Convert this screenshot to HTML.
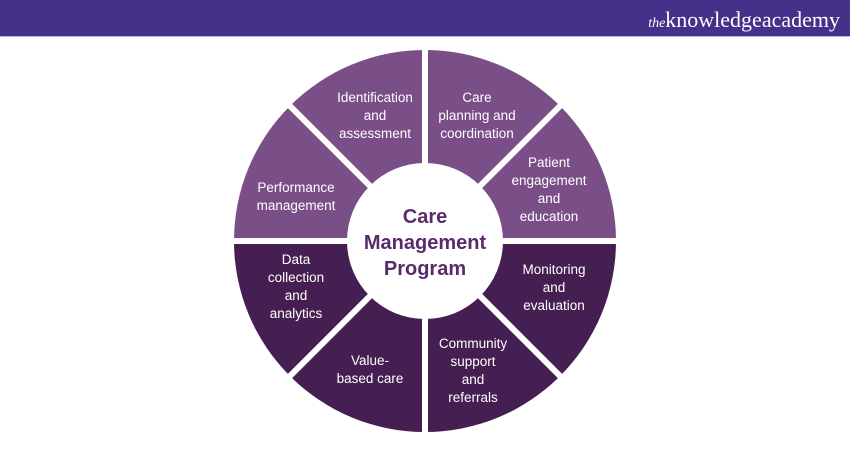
<!DOCTYPE html>
<html><head><meta charset="utf-8"><style>
html,body{margin:0;padding:0;background:#fff;width:850px;height:450px;overflow:hidden}
</style></head><body>
<svg width="850" height="450" viewBox="0 0 850 450" xmlns="http://www.w3.org/2000/svg">
<rect x="0" y="0" width="850" height="36" fill="#45318a"/>
<rect x="0" y="36" width="850" height="1" fill="#b9b0d6"/>
<text x="840" y="27" text-anchor="end" fill="#fff" font-family="Liberation Serif, serif" font-size="22"><tspan font-style="italic" font-size="14">the</tspan>knowledge<tspan>academy</tspan></text>
<path d="M234 241 A191 191 0 0 1 616 241 Z" fill="#7a4e87"/>
<path d="M234 241 A191 191 0 0 0 616 241 Z" fill="#461f52"/>
<g stroke="#fff" stroke-width="6">
<line x1="425" y1="40" x2="425" y2="442"/>
<line x1="224" y1="241" x2="626" y2="241"/>
<line x1="283" y1="99" x2="567" y2="383"/>
<line x1="567" y1="99" x2="283" y2="383"/>
</g>
<circle cx="425" cy="241" r="78" fill="#fff"/>
<g font-family="Liberation Sans, sans-serif" font-size="13.5" fill="#fff" text-anchor="middle">
<text x="375" y="102">Identification</text><text x="375" y="120">and</text><text x="375" y="138">assessment</text>
<text x="477" y="102">Care</text><text x="477" y="120">planning and</text><text x="477" y="138">coordination</text>
<text x="549" y="167">Patient</text><text x="549" y="185">engagement</text><text x="549" y="203">and</text><text x="549" y="221">education</text>
<text x="296" y="192">Performance</text><text x="296" y="210">management</text>
<text x="296" y="264">Data</text><text x="296" y="282">collection</text><text x="296" y="300">and</text><text x="296" y="318">analytics</text>
<text x="554" y="274">Monitoring</text><text x="554" y="292">and</text><text x="554" y="310">evaluation</text>
<text x="370" y="365">Value-</text><text x="370" y="383">based care</text>
<text x="473" y="348">Community</text><text x="473" y="366">support</text><text x="473" y="384">and</text><text x="473" y="402">referrals</text>
</g>
<g font-family="Liberation Sans, sans-serif" font-size="20" font-weight="bold" fill="#5a2b6a" text-anchor="middle">
<text x="425" y="223">Care</text><text x="425" y="249">Management</text><text x="425" y="275">Program</text>
</g>
</svg>
</body></html>
